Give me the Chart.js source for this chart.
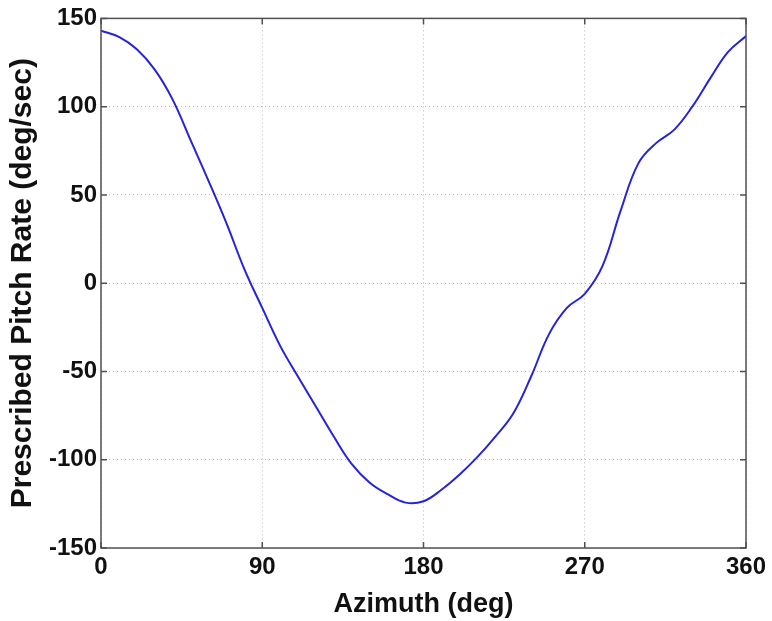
<!DOCTYPE html>
<html>
<head>
<meta charset="utf-8">
<script src="https://cdn.jsdelivr.net/npm/chart.js@4/dist/chart.umd.min.js"></script>
<style>
  html, body { margin: 0; padding: 0; background: #ffffff; }
  #wrap { width: 772px; height: 621px; }
</style>
</head>
<body>
<div id="wrap"><canvas id="chart" width="772" height="621"></canvas></div>
<script>
// Azimuth angle (deg) and the prescribed pitch rate (deg/sec) at that angle
const azimuth = [0, 10, 20, 30, 40, 50, 60, 70, 80, 90, 100, 110, 120, 130, 140, 150, 160, 170,
  180, 190, 200, 210, 220, 230, 240, 250, 260, 270, 280, 290, 300, 310, 320, 330, 340, 350, 360];
const pitchRate = [143, 139.5, 132.5, 121, 104, 81, 58, 34, 8, -14, -35.5, -53, -70, -87, -102.5, -113, -119.5, -124.3,
  -123.5, -117, -108.5, -98.5, -87, -74, -53, -29, -14, -6, 10, 41, 68, 79.5, 87, 100, 116, 131, 140];

const xTicks = [0, 90, 180, 270, 360];
const yTicks = [-150, -100, -50, 0, 50, 100, 150];

const points = azimuth.map((a, i) => ({ x: a, y: pitchRate[i] }));

// Closed axes box with inward tick marks on all four sides
const boxPlugin = {
  id: 'axesBox',
  afterDatasetsDraw(chart) {
    const { ctx, chartArea: a, scales } = chart;
    ctx.save();
    ctx.strokeStyle = '#505050';
    ctx.lineWidth = 1.5;
    ctx.setLineDash([]);
    ctx.strokeRect(a.left, a.top, a.right - a.left, a.bottom - a.top);
    const len = 6;
    ctx.beginPath();
    xTicks.forEach(v => {
      const px = scales.x.getPixelForValue(v);
      ctx.moveTo(px, a.bottom); ctx.lineTo(px, a.bottom - len);
      ctx.moveTo(px, a.top); ctx.lineTo(px, a.top + len);
    });
    yTicks.forEach(v => {
      const py = scales.y.getPixelForValue(v);
      ctx.moveTo(a.left, py); ctx.lineTo(a.left + len, py);
      ctx.moveTo(a.right, py); ctx.lineTo(a.right - len, py);
    });
    ctx.stroke();
    ctx.restore();
  }
};

const tickFont = { family: 'Liberation Sans, Arial, sans-serif', size: 24, weight: 'bold' };

new Chart(document.getElementById('chart'), {
  type: 'line',
  data: {
    datasets: [{
      data: points,
      borderColor: '#2424d8',
      borderWidth: 2,
      pointRadius: 0,
      fill: false,
      tension: 0.4
    }]
  },
  options: {
    responsive: false,
    animation: false,
    layout: { padding: { top: 16, right: 26, left: 0, bottom: 0 } },
    plugins: { legend: { display: false }, tooltip: { enabled: false } },
    scales: {
      x: {
        type: 'linear',
        min: 0, max: 360,
        afterBuildTicks: s => { s.ticks = xTicks.map(v => ({ value: v })); },
        afterFit: s => { s.height = 73; },
        ticks: { font: tickFont, color: '#111', padding: 5, maxRotation: 0 },
        grid: { color: '#b8b8b8', lineWidth: 1, drawTicks: false },
        border: { display: false, dash: [1, 3] },
        title: {
          display: true, text: 'Azimuth (deg)', color: '#111',
          font: { family: 'Liberation Sans, Arial, sans-serif', size: 27, weight: 'bold' },
          padding: { top: 7, bottom: 0 }
        }
      },
      y: {
        type: 'linear',
        min: -150, max: 150,
        afterBuildTicks: s => { s.ticks = yTicks.map(v => ({ value: v })); },
        afterFit: s => { s.width = 101; },
        ticks: { font: tickFont, color: '#111', padding: 4 },
        grid: { color: '#b8b8b8', lineWidth: 1, drawTicks: false },
        border: { display: false, dash: [1, 3] },
        title: {
          display: true, text: 'Prescribed Pitch Rate (deg/sec)', color: '#111',
          font: { family: 'Liberation Sans, Arial, sans-serif', size: 30, weight: 'bold' },
          padding: { top: 5, bottom: 0 }
        }
      }
    }
  },
  plugins: [boxPlugin]
});
</script>
</body>
</html>
